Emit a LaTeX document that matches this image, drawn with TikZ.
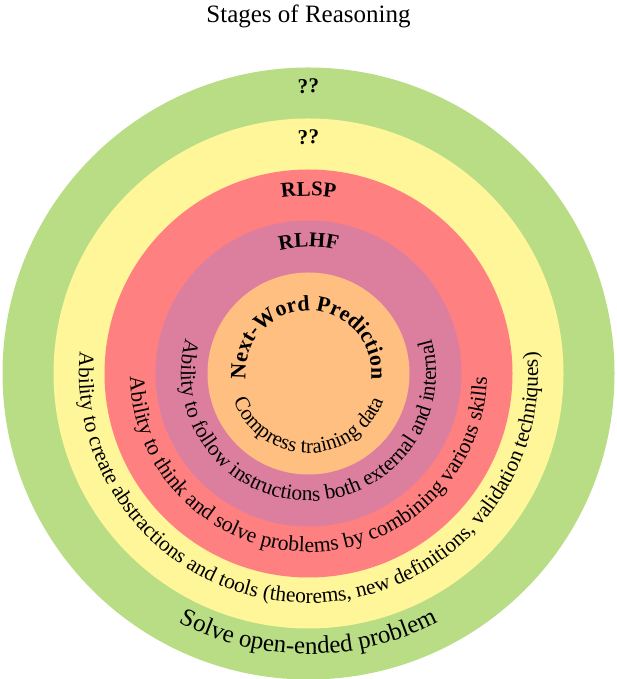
\documentclass[tikz,border=0pt]{standalone}
\usepackage{fontspec}
\setmainfont{Liberation Serif}
\usetikzlibrary{decorations.text}
\definecolor{ringgreen}{RGB}{184,221,133}
\definecolor{ringyellow}{RGB}{255,245,153}
\definecolor{ringred}{RGB}{255,128,128}
\definecolor{ringpurple}{RGB}{220,127,159}
\definecolor{ringorange}{RGB}{255,191,128}
\begin{document}
\begin{tikzpicture}[x=1pt,y=1pt,
  ringtext/.style={decorate, decoration={text along path, text align=center}}]
\useasboundingbox (0,0) rectangle (616,679);
\coordinate (C) at (308.5,305.5);
% rings
\fill[ringgreen] (C) circle[radius=306];
\fill[ringyellow] (C) circle[radius=255];
\fill[ringred] (C) circle[radius=204];
\fill[ringpurple] (C) circle[radius=153];
\fill[ringorange] (C) circle[radius=101];
% title
\node[font=\fontsize{25}{30}\selectfont, anchor=base] (title) at (308.5,656) {Stages of Reasoning};
% top labels
\path[ringtext, decoration={text={|\bfseries\fontsize{21}{25}\selectfont|??}}]
  ([shift={(260:280.5)}]C) arc[start angle=260, end angle=-80, radius=280.5];
\path[ringtext, decoration={text={|\bfseries\fontsize{21}{25}\selectfont|??}}]
  ([shift={(260:229.5)}]C) arc[start angle=260, end angle=-80, radius=229.5];
\path[ringtext, decoration={text={|\bfseries\fontsize{21}{25}\selectfont|RLSP}}]
  ([shift={(260:177.5)}]C) arc[start angle=260, end angle=-80, radius=177.5];
\path[ringtext, decoration={text={|\bfseries\fontsize{21}{25}\selectfont|RLHF}}]
  ([shift={(260:126.5)}]C) arc[start angle=260, end angle=-80, radius=126.5];
\path[ringtext, decoration={text={|\bfseries\fontsize{22}{26}\selectfont|Next-Word Prediction}}]
  ([shift={(260:63)}]C) arc[start angle=260, end angle=-80, radius=63];
% bottom labels
\path[ringtext, decoration={text={|\fontsize{21}{25}\selectfont|Compress training data}}]
  ([shift={(100:79.5)}]C) arc[start angle=100, end angle=440, radius=79.5];
\path[ringtext, decoration={text={|\fontsize{21.3}{25}\selectfont|Ability to follow instructions both external and internal}}]
  ([shift={(100:127.5)}]C) arc[start angle=100, end angle=440, radius=127.5];
\path[ringtext, decoration={text={|\fontsize{21.7}{26}\selectfont|Ability to think and solve problems by combining various skills}}]
  ([shift={(100:178.5)}]C) arc[start angle=100, end angle=440, radius=178.5];
\path[ringtext, decoration={text={|\fontsize{21.4}{26}\selectfont|Ability to create abstractions and tools {(}theorems{,} new definitions{,} validation techniques{)}}}]
  ([shift={(100:229.5)}]C) arc[start angle=100, end angle=440, radius=229.5];
\path[ringtext, decoration={text={|\fontsize{25}{30}\selectfont|Solve open-ended problem}}]
  ([shift={(100:280.5)}]C) arc[start angle=100, end angle=440, radius=280.5];
\end{tikzpicture}
\end{document}
